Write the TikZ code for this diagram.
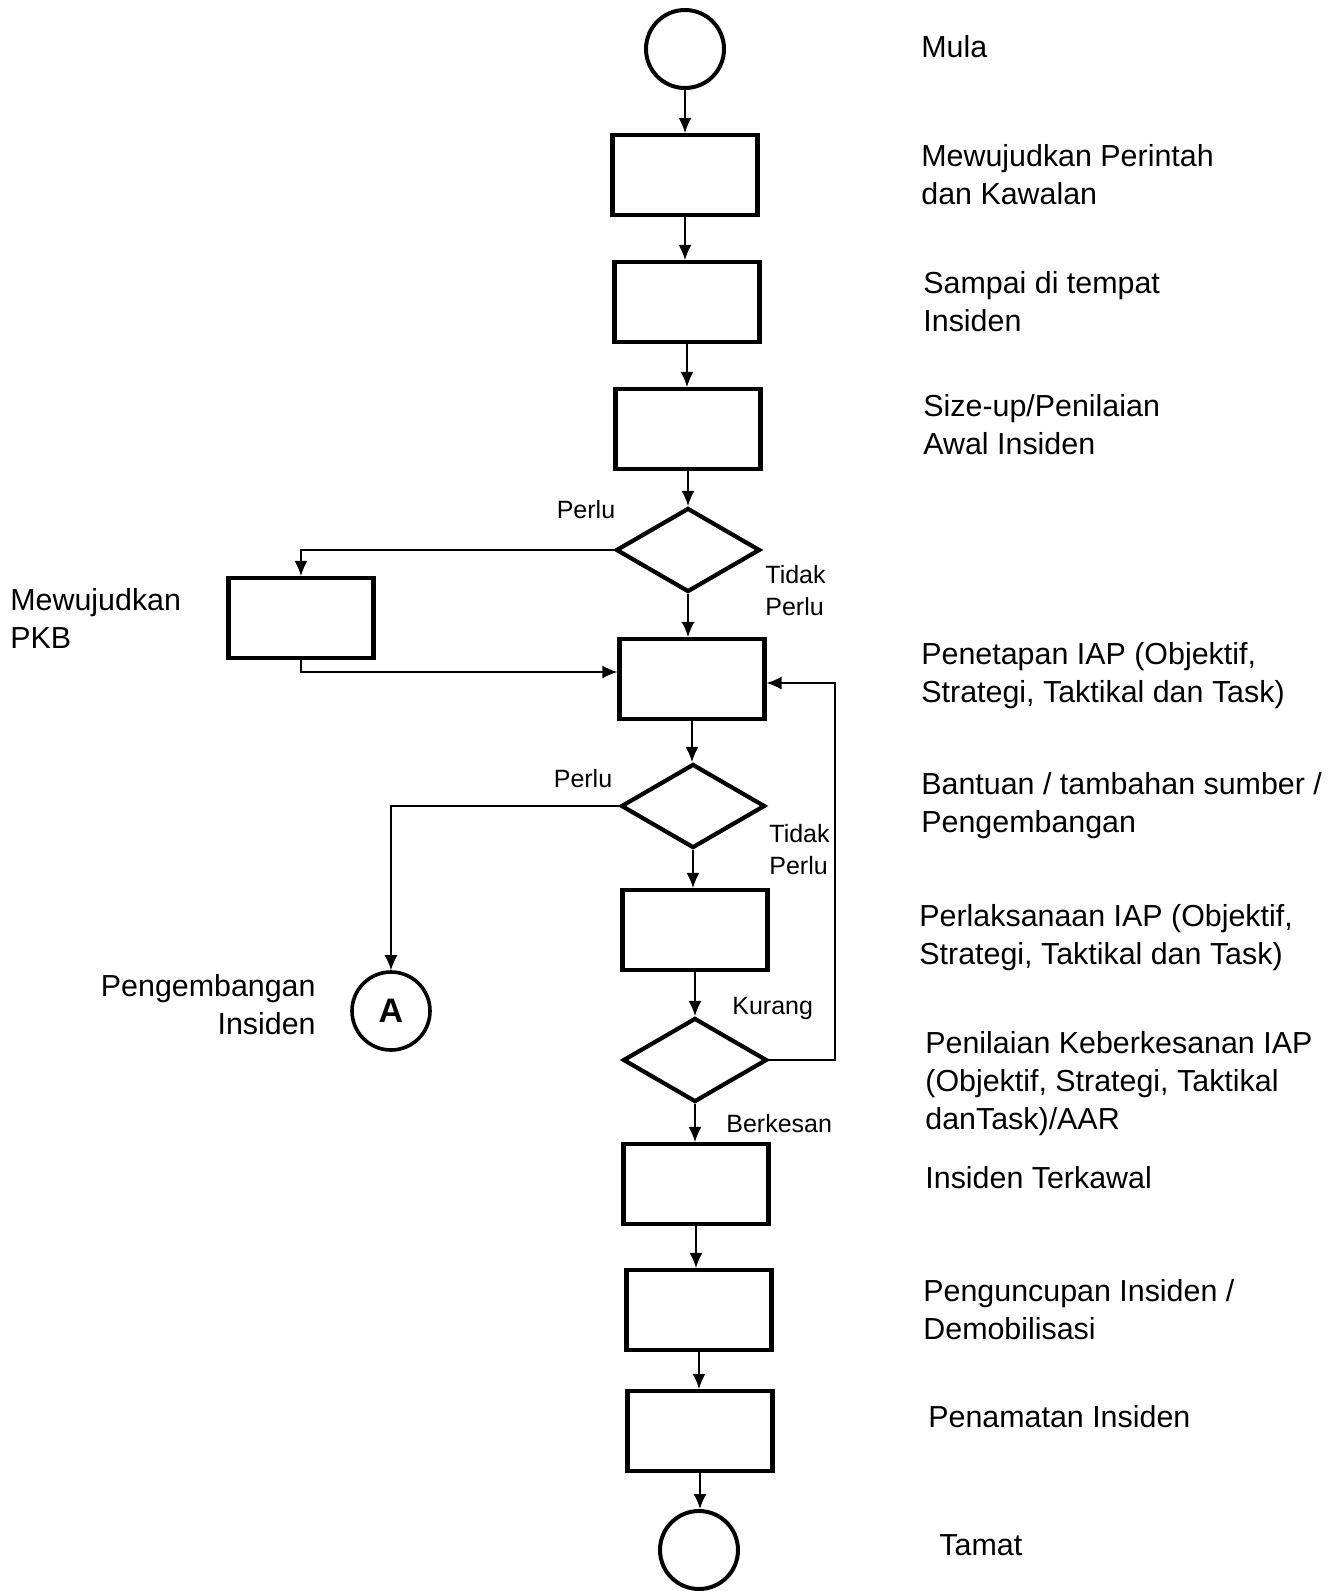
\documentclass[tikz,border=0pt]{standalone}
\usepackage{fontspec}
\setmainfont{Liberation Sans}
\usetikzlibrary{shapes.geometric, arrows.meta}
\tikzstyle{startstop} = [circle, minimum size=39pt, inner sep=0pt, draw=black, line width=2pt]
\tikzstyle{process} = [rectangle, minimum width=72.5pt, minimum height=40pt, draw=black, line width=2.1pt]
\tikzstyle{decision} = [diamond, minimum width=72pt, minimum height=42pt, inner sep=0pt, draw=black, line width=2.1pt]
\tikzstyle{arrow} = [line width=0.75pt,-{Latex[length=7.5pt,width=6.5pt]}]
\tikzstyle{note} = [anchor=base west, align=left, inner sep=0pt, font=\fontsize{15.2}{18.9}\selectfont]
\tikzstyle{tag} = [anchor=base west, align=left, inner sep=0pt, font=\fontsize{12.5}{15.7}\selectfont]

\begin{document}
\begin{tikzpicture}[x=0.5pt, y=-0.5pt]
	\useasboundingbox (0,0) rectangle (1341,1591);
	\node (mula) [startstop] at (685,49) {};
	\node (perintah) [process, below of=mula, node distance=63pt] {};
	\node (sampai) [process, below of=perintah, node distance=63.5pt, xshift=1pt] {};
	\node (sizeup) [process, below of=sampai, node distance=63.5pt, xshift=0.5pt] {};
	\node (pkbq) [decision, below of=sizeup, node distance=60.5pt] {};
	\node (pkb) [process] at (301,618) {};
	\node (iap) [process, below of=pkbq, node distance=64.5pt, xshift=2pt] {};
	\node (bantuan) [decision, below of=iap, node distance=63.5pt, xshift=0.5pt] {};
	\node (laksana) [process, below of=bantuan, node distance=62pt, xshift=1pt] {};
	\node (nilai) [decision, below of=laksana, node distance=65pt] {};
	\node (kawal) [process, below of=nilai, node distance=62pt, xshift=0.5pt] {};
	\node (cupan) [process, below of=kawal, node distance=63pt, xshift=1.5pt] {};
	\node (tamatkan) [process, below of=cupan, node distance=60.5pt, xshift=0.5pt] {};
	\node (tamat) [startstop, below of=tamatkan, node distance=59.5pt, xshift=-0.5pt] {};
	\node (conA) [startstop, line width=1.8pt, font=\fontsize{17}{18}\selectfont\bfseries] at (391,1011) {A};

	\draw [arrow] (mula.south) -- (mula.south |- perintah.north);
	\draw [arrow] (perintah.south) -- (perintah.south |- sampai.north);
	\draw [arrow] (sampai.south) -- (sampai.south |- sizeup.north);
	\draw [arrow] (sizeup.south) -- (sizeup.south |- pkbq.north);
	\draw [arrow] (pkbq.west) -| (pkb.north);
	\draw [arrow] (pkbq.south) -- (pkbq.south |- iap.north);
	\draw [arrow] (pkb.south) |- ([yshift=3.5pt]iap.west);
	\draw [arrow] (iap.south) -- (iap.south |- bantuan.north);
	\draw [arrow] (bantuan.west) -| (conA.north);
	\draw [arrow] (bantuan.south) -- (bantuan.south |- laksana.north);
	\draw [arrow] (laksana.south) -- (laksana.south |- nilai.north);
	\draw [arrow] (nilai.east) -- ++(33pt,0) |- ([yshift=-2pt]iap.east);
	\draw [arrow] (nilai.south) -- (nilai.south |- kawal.north);
	\draw [arrow] (kawal.south) -- (kawal.south |- cupan.north);
	\draw [arrow] (cupan.south) -- (cupan.south |- tamatkan.north);
	\draw [arrow] (tamatkan.south) -- (tamatkan.south |- tamat.north);

	% keterangan
	\node (tMula) [note] at (921,57) {Mula};
	\node (tPerintah) [note] at (921,204) {Mewujudkan Perintah\\dan Kawalan};
	\node (tSampai) [note] at (923,331) {Sampai di tempat\\Insiden};
	\node (tSizeup) [note] at (923,454) {Size-up/Penilaian\\Awal Insiden};
	\node (tIap) [note] at (921,702) {Penetapan IAP (Objektif,\\Strategi, Taktikal dan Task)};
	\node (tBantuan) [note] at (921,832) {Bantuan / tambahan sumber /\\Pengembangan};
	\node (tLaksana) [note] at (919,964) {Perlaksanaan IAP (Objektif,\\Strategi, Taktikal dan Task)};
	\node (tNilai) [note] at (925,1129) {Penilaian Keberkesanan IAP\\(Objektif, Strategi, Taktikal\\danTask)/AAR};
	\node (tKawal) [note] at (925,1188) {Insiden Terkawal};
	\node (tCupan) [note] at (923,1339) {Penguncupan Insiden /\\Demobilisasi};
	\node (tTamatkan) [note] at (928,1427) {Penamatan Insiden};
	\node (tTamat) [note] at (939,1555) {Tamat};
	\node (tPkb) [note] at (10,648) {Mewujudkan\\PKB};
	\node (tConA) [note, anchor=base east, align=right] at (316,1034) {Pengembangan\\Insiden};

	% cabang
	\node (perlu1) [tag, anchor=base] at (586,518) {Perlu};
	\node (tidak1) [tag] at (765,615) {Tidak\\Perlu};
	\node (perlu2) [tag, anchor=base] at (583,787) {Perlu};
	\node (tidak2) [tag] at (769,874) {Tidak\\Perlu};
	\node (kurang) [tag] at (732,1014) {Kurang};
	\node (berkesan) [tag] at (726,1132) {Berkesan};
\end{tikzpicture}
\end{document}
